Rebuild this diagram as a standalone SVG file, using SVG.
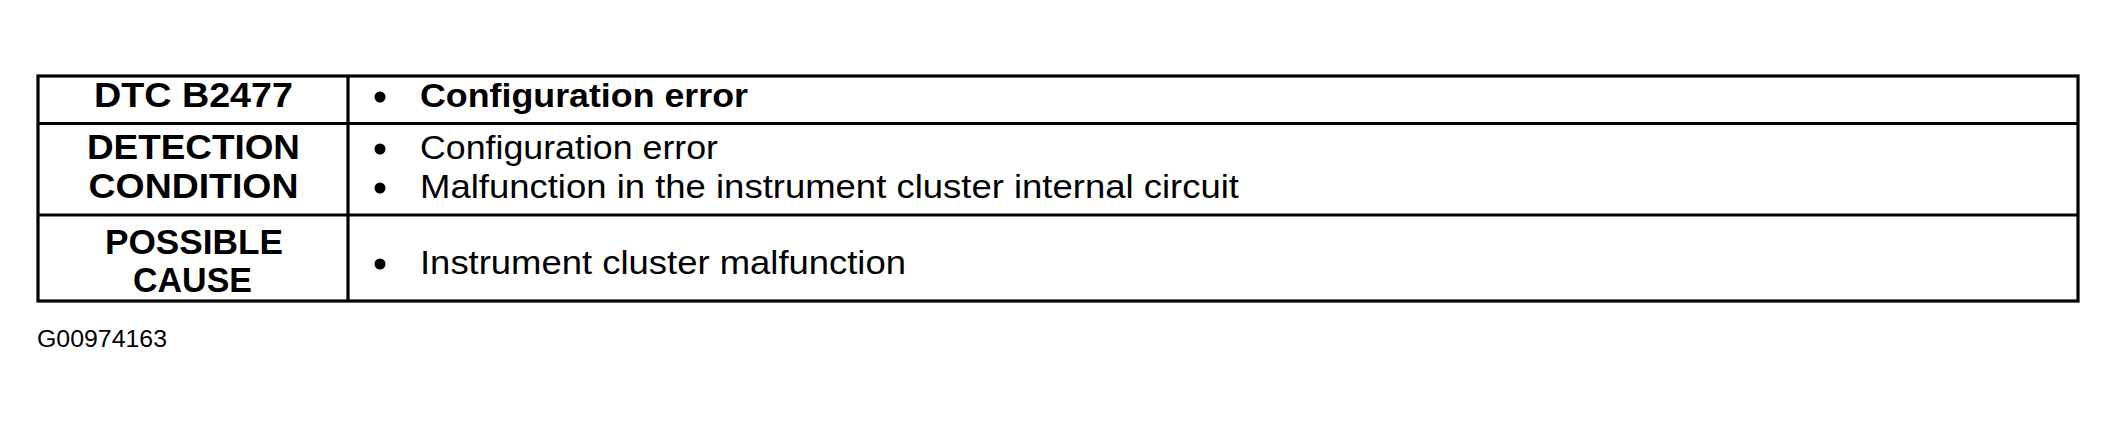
<svg xmlns="http://www.w3.org/2000/svg" width="2116" height="423" viewBox="0 0 2116 423">
<style>
.t{font-family:"Liberation Sans",Arial,Helvetica,sans-serif;fill:#000}
.h{font-size:35px;font-weight:bold;text-anchor:middle}
.b{font-size:33px;font-weight:bold}
.r{font-size:33px}
.id{font-size:23px}
.ln{stroke:#000;stroke-width:3.2;fill:none}
.dot{fill:#000}
</style>
<rect x="0" y="0" width="2116" height="423" fill="#fff"/>
<g id="table-grid">
<rect class="ln" x="38" y="76" width="2040" height="225"/>
<line class="ln" x1="38" y1="123.5" x2="2078" y2="123.5"/>
<line class="ln" x1="38" y1="215" x2="2078" y2="215"/>
<line class="ln" x1="348" y1="76" x2="348" y2="301"/>
</g>
<g id="row-dtc">
<text class="t h" x="193.5" y="107" textLength="199" lengthAdjust="spacingAndGlyphs">DTC B2477</text>
<circle class="dot" cx="380" cy="97" r="5.5"/>
<text class="t b" x="420" y="107" textLength="328" lengthAdjust="spacingAndGlyphs">Configuration error</text>
</g>
<g id="row-detection">
<text class="t h" x="193.5" y="159" textLength="213" lengthAdjust="spacingAndGlyphs">DETECTION</text>
<text class="t h" x="193.5" y="198" textLength="210" lengthAdjust="spacingAndGlyphs">CONDITION</text>
<circle class="dot" cx="380" cy="149" r="5.5"/>
<text class="t r" x="420" y="159" textLength="298" lengthAdjust="spacingAndGlyphs">Configuration error</text>
<circle class="dot" cx="380" cy="188" r="5.5"/>
<text class="t r" x="420" y="198" textLength="819" lengthAdjust="spacingAndGlyphs">Malfunction in the instrument cluster internal circuit</text>
</g>
<g id="row-cause">
<text class="t h" x="194" y="254" textLength="178" lengthAdjust="spacingAndGlyphs">POSSIBLE</text>
<text class="t h" x="192.5" y="292" textLength="119" lengthAdjust="spacingAndGlyphs">CAUSE</text>
<circle class="dot" cx="380" cy="264" r="5.5"/>
<text class="t r" x="420" y="274" textLength="486" lengthAdjust="spacingAndGlyphs">Instrument cluster malfunction</text>
</g>
<g id="figure-id">
<text class="t id" x="37" y="347" textLength="130" lengthAdjust="spacingAndGlyphs">G00974163</text>
</g>
</svg>
